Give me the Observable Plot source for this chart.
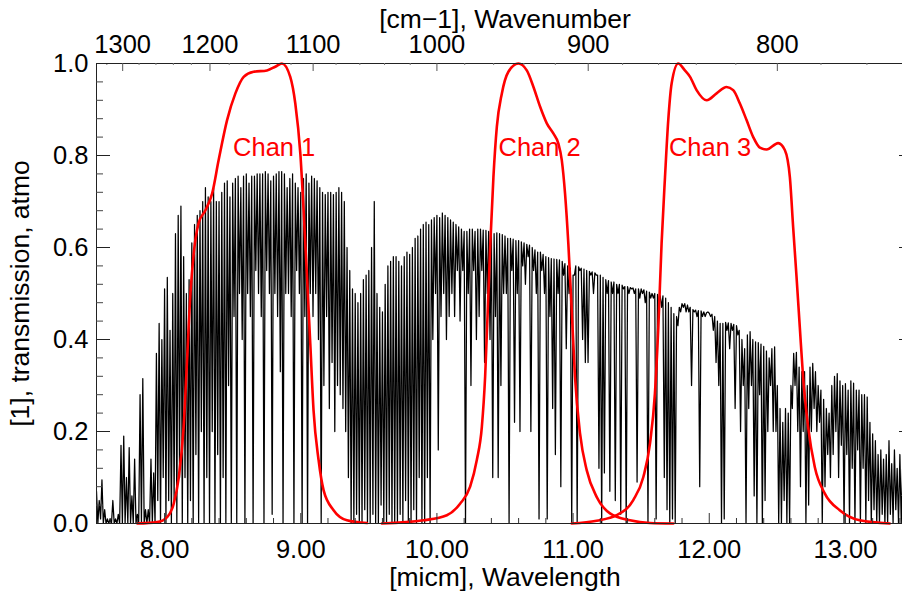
<!DOCTYPE html>
<html><head><meta charset="utf-8">
<script src="https://cdn.jsdelivr.net/npm/d3@7"></script>
<script src="https://cdn.jsdelivr.net/npm/@observablehq/plot@0.6"></script>
<style>
html,body{margin:0;padding:0;background:#fff;overflow:hidden;}
#chart{width:902px;height:593px;overflow:hidden;position:relative;}
</style></head><body><div id="chart"></div>
<script>
// Atmospheric transmission, sampled every 0.02 µm: local peak and the dip between peaks
const specStart = 7.5, specStep = 0.02;
const specPeak = [
0.07,0.05,0.095,0.03,0.01,0.01,0.05,0.01,0.02,0.17,
0.19,0.10,0.165,0.06,0.14,0.02,0.28,0.315,0.03,0.03,
0.14,0.11,0.37,0.435,0.40,0.51,0.535,0.42,0.50,0.63,
0.67,0.69,0.58,0.50,0.53,0.61,0.65,0.67,0.68,0.70,
0.73,0.71,0.70,0.73,0.70,0.70,0.72,0.74,0.745,0.71,
0.74,0.75,0.755,0.73,0.755,0.76,0.74,0.755,0.755,0.76,
0.76,0.76,0.765,0.76,0.745,0.755,0.76,0.765,0.765,0.76,
0.73,0.75,0.76,0.74,0.73,0.72,0.75,0.76,0.74,0.755,
0.75,0.745,0.73,0.72,0.715,0.72,0.72,0.715,0.72,0.73,
0.72,0.70,0.60,0.55,0.51,0.50,0.48,0.50,0.53,0.54,
0.55,0.60,0.70,0.50,0.47,0.46,0.52,0.56,0.57,0.58,
0.58,0.57,0.56,0.58,0.59,0.585,0.60,0.62,0.625,0.64,
0.65,0.655,0.65,0.66,0.665,0.67,0.665,0.675,0.67,0.665,
0.66,0.655,0.65,0.645,0.64,0.635,0.635,0.64,0.64,0.635,
0.64,0.64,0.638,0.637,0.635,0.637,0.63,0.632,0.63,0.628,
0.625,0.62,0.62,0.618,0.615,0.615,0.612,0.61,0.607,0.605,
0.60,0.595,0.59,0.59,0.585,0.58,0.578,0.576,0.575,0.574,
0.573,0.57,0.565,0.56,0.555,0.54,0.56,0.558,0.555,0.553,
0.55,0.548,0.547,0.545,0.54,0.54,0.535,0.53,0.528,0.525,
0.525,0.52,0.52,0.518,0.515,0.515,0.513,0.512,0.51,0.51,
0.51,0.508,0.505,0.503,0.50,0.50,0.498,0.495,0.495,0.49,
0.48,0.47,0.456,0.45,0.47,0.478,0.478,0.475,0.47,0.465,
0.464,0.463,0.462,0.46,0.458,0.457,0.455,0.45,0.44,0.435,
0.435,0.437,0.436,0.435,0.433,0.43,0.42,0.40,0.38,0.41,
0.417,0.40,0.395,0.393,0.39,0.385,0.375,0.36,0.38,0.384,
0.30,0.25,0.22,0.25,0.24,0.30,0.37,0.372,0.34,0.33,
0.33,0.30,0.34,0.348,0.33,0.30,0.29,0.27,0.25,0.24,
0.30,0.32,0.326,0.31,0.30,0.304,0.29,0.31,0.305,0.29,
0.29,0.28,0.28,0.275,0.22,0.195,0.18,0.15,0.16,0.14,
0.15,0.18,0.13,0.16,0.12,0.15,0.12,0.10,0.12,0.10
];
const specDip = [
0,0.01,0,0,0,0,0,0,0,0,
0,0,0,0,0,0,0,0,0,0,
0,0,0.05,0,0.1,0,0.05,0,0.05,0,
0.1,0,0.1,0,0.05,0,0.15,0,0.2,0,
0.1,0,0.2,0,0.15,0,0.1,0,0.3,0,
0.45,0,0.5,0.4,0,0.5,0.45,0,0.55,0.5,
0.45,0,0.55,0.5,0.02,0.5,0.45,0.33,0,0.5,
0.5,0.45,0,0.55,0.5,0,0.45,0,0.5,0.45,
0.5,0.4,0,0.3,0.45,0.25,0.35,0.2,0.3,0.28,
0.25,0.2,0.1,0,0,0.02,0,0,0.03,0,
0,0.02,0,0,0.04,0,0,0.02,0,0,
0,0.02,0,0.05,0,0,0.03,0,0.1,0,
0,0.1,0,0.4,0.5,0.16,0.45,0.5,0.4,0.45,
0.5,0.45,0.55,0.44,0.55,0,0.5,0.3,0.55,0.4,
0.45,0.55,0.35,0.5,0.4,0.1,0.45,0.1,0.3,0.5,
0.5,0,0.55,0.22,0.5,0.2,0.56,0.52,0.58,0.2,
0.55,0.5,0.01,0.55,0.5,0.01,0.45,0.25,0.15,0.5,
0.08,0.54,0.38,0.5,0,0.54,0,0.55,0.4,0.35,
0.35,0.54,0.5,0.54,0.12,0,0.11,0.5,0.07,0.5,
0.05,0.5,0.02,0.51,0,0.5,0.51,0.5,0.09,0.49,
0.5,0.48,0,0.49,0.49,0.01,0.48,0.47,0.1,0.03,
0,0.01,0,0.43,0.46,0.47,0.46,0.46,0.3,0.46,
0.45,0.08,0.45,0.45,0.46,0.45,0.42,0.35,0.3,0,
0.01,0.42,0.38,0.42,0.25,0.41,0.2,0.3,0,0.25,
0.3,0.06,0,0.28,0,0.05,0.2,0.3,0.2,0.2,
0,0,0.05,0,0,0.25,0.3,0.2,0.08,0.2,
0,0.04,0.2,0.25,0.2,0.22,0,0.08,0.15,0.1,
0.15,0.2,0.1,0.17,0,0.15,0,0.12,0,0.16,
0,0.12,0,0.05,0,0.03,0,0,0.02,0,
0,0.02,0,0.03,0,0,0.02,0,0,0
];

// Channel spectral response functions [wavelength µm, response]
const chan1 = [[7.80,0],[7.945,0.003],[8.019,0.014],[8.067,0.043],[8.104,0.10],[8.14,0.21],[8.165,0.355],[8.19,0.50],[8.214,0.587],[8.25,0.653],[8.30,0.681],[8.349,0.717],[8.397,0.79],[8.459,0.877],[8.52,0.935],[8.581,0.971],[8.654,0.982],[8.752,0.985],[8.813,0.993],[8.862,1.0],[8.923,0.971],[8.96,0.913],[8.997,0.804],[9.021,0.681],[9.046,0.536],[9.07,0.391],[9.094,0.246],[9.131,0.138],[9.168,0.072],[9.241,0.029],[9.339,0.007],[9.486,0.001]];
const chan2 = [[9.596,0],[9.901,0.007],[10.073,0.018],[10.17,0.043],[10.244,0.08],[10.293,0.138],[10.33,0.21],[10.354,0.319],[10.378,0.50],[10.391,0.601],[10.415,0.753],[10.44,0.862],[10.477,0.935],[10.525,0.982],[10.598,1.0],[10.66,0.985],[10.709,0.949],[10.758,0.906],[10.807,0.87],[10.855,0.848],[10.892,0.826],[10.917,0.79],[10.941,0.717],[10.965,0.609],[10.99,0.464],[11.014,0.319],[11.051,0.196],[11.1,0.116],[11.173,0.058],[11.271,0.022],[11.418,0.007],[11.565,0.001],[11.736,0]];
const chan3 = [[10.99,0],[11.173,0.006],[11.32,0.018],[11.442,0.051],[11.516,0.101],[11.565,0.174],[11.601,0.283],[11.626,0.427],[11.65,0.609],[11.675,0.753],[11.699,0.877],[11.724,0.957],[11.772,1.0],[11.821,0.985],[11.859,0.971],[11.907,0.942],[11.981,0.92],[12.054,0.935],[12.127,0.949],[12.176,0.942],[12.225,0.913],[12.274,0.877],[12.323,0.84],[12.372,0.817],[12.421,0.813],[12.506,0.827],[12.555,0.812],[12.592,0.753],[12.616,0.645],[12.641,0.536],[12.665,0.427],[12.689,0.319],[12.726,0.21],[12.775,0.123],[12.849,0.065],[12.958,0.029],[13.105,0.007],[13.325,0]];

const chanNames = ["Chan 1", "Chan 2", "Chan 3"];
const chanLabelLam = [8.503, 10.452, 11.704];
const chanLabelT = 0.7985;

// Axes
const xTicks = [8, 9, 10, 11, 12, 13];
const xMinorTicks = [7.6,7.8,8.2,8.4,8.6,8.8,9.2,9.4,9.6,9.8,10.2,10.4,10.6,10.8,11.2,11.4,11.6,11.8,12.2,12.4,12.6,12.8,13.2,13.4];
const wnTicks = [1300, 1200, 1100, 1000, 900, 800];
const wnMinorTicks = [1320,1280,1260,1240,1220,1180,1160,1140,1120,1080,1060,1040,1020,980,960,940,920,880,860,840,820,780,760];
const yTicks = [0, 0.2, 0.4, 0.6, 0.8, 1.0];
const yMinorTicks = [0.04,0.08,0.12,0.16,0.24,0.28,0.32,0.36,0.44,0.48,0.52,0.56,0.64,0.68,0.72,0.76,0.84,0.88,0.92,0.96];

const xTitle = "[micm], Wavelength";
const topTitle = "[cm\u22121], Wavenumber";
const yTitle = "[1], transmission, atmo";

const spectrum = [];
specPeak.forEach((p, i) => {
  const lam = specStart + i * specStep;
  spectrum.push({lam, t: p});
  spectrum.push({lam: lam + specStep / 2, t: specDip[i]});
});
const toRows = (arr) => arr.map(([lam, r]) => ({lam, r}));

const W = 916, H = 593;
const mL = 96, mR = 3, mT = 63, mB = 70;
const pw = W - mL - mR, ph = H - mT - mB;
const FS = 25.5, FT = 26.5;
const font = "Liberation Sans, Arial, Helvetica, sans-serif";

const chart = Plot.plot({
  width: W, height: H,
  marginLeft: mL, marginRight: mR, marginTop: mT, marginBottom: mB,
  x: {domain: [7.5, 13.5], axis: null},
  y: {domain: [0, 1], axis: null},
  style: {fontFamily: font, background: "#fff"},
  marks: [
    Plot.line(spectrum, {x: "lam", y: "t", stroke: "#000", strokeWidth: 1.25, clip: true}),
    Plot.line(toRows(chan1), {x: "lam", y: "r", stroke: "#ff0000", strokeWidth: 2.6, curve: "monotone-x"}),
    Plot.line(toRows(chan2), {x: "lam", y: "r", stroke: "#ff0000", strokeWidth: 2.6, curve: "monotone-x"}),
    Plot.line(toRows(chan3), {x: "lam", y: "r", stroke: "#ff0000", strokeWidth: 2.6, curve: "monotone-x"}),
    Plot.text(chanNames, {x: (d, i) => chanLabelLam[i], y: () => chanLabelT, text: d => d, fill: "#ff0000",
      fontSize: FS, textAnchor: "start", lineAnchor: "bottom"}),
    Plot.frame({stroke: "#222", strokeWidth: 1}),
    // bottom ticks (inward)
    Plot.ruleX(xTicks, {stroke: "#333", insetTop: ph - 10}),
    Plot.ruleX(xMinorTicks, {stroke: "#333", insetTop: ph - 5}),
    // top ticks (wavenumber)
    Plot.ruleX(wnTicks, {x: d => 1e4 / d, stroke: "#555", insetBottom: ph - 8}),
    Plot.ruleX(wnMinorTicks, {x: d => 1e4 / d, stroke: "#777", insetBottom: ph - 2}),
    // left and right ticks
    Plot.ruleY(yTicks, {stroke: "#222", insetRight: pw - 14}),
    Plot.ruleY(yMinorTicks, {stroke: "#444", insetRight: pw - 7}),
    Plot.ruleY(yTicks, {stroke: "#222", insetLeft: pw - 14}),
    Plot.ruleY(yMinorTicks, {stroke: "#444", insetLeft: pw - 7}),
    // tick labels
    Plot.text(xTicks, {x: d => d, text: d => d.toFixed(2), frameAnchor: "bottom", dy: 16, textAnchor: "middle", lineAnchor: "top", fontSize: FS, fill: "#000"}),
    Plot.text(wnTicks, {x: d => 1e4 / d, text: d => String(d), frameAnchor: "top", dy: -10.5, textAnchor: "middle", lineAnchor: "bottom", fontSize: FS, fill: "#000"}),
    Plot.text(yTicks, {y: d => d, text: d => d.toFixed(1), frameAnchor: "left", dx: -8, textAnchor: "end", lineAnchor: "middle", fontSize: FS, fill: "#000"}),
    // titles
    Plot.text([xTitle], {frameAnchor: "bottom", dy: 62, textAnchor: "middle", lineAnchor: "bottom", fontSize: FT, fill: "#000"}),
    Plot.text([topTitle], {frameAnchor: "top", dy: -36, textAnchor: "middle", lineAnchor: "bottom", fontSize: FT, fill: "#000"}),
    Plot.text([yTitle], {frameAnchor: "left", dx: -68, rotate: -90, textAnchor: "middle", lineAnchor: "bottom", fontSize: FT, fill: "#000"})
  ]
});
chart.style.maxWidth = "none";
chart.style.display = "block";
document.getElementById("chart").appendChild(chart);
</script>
</body></html>
